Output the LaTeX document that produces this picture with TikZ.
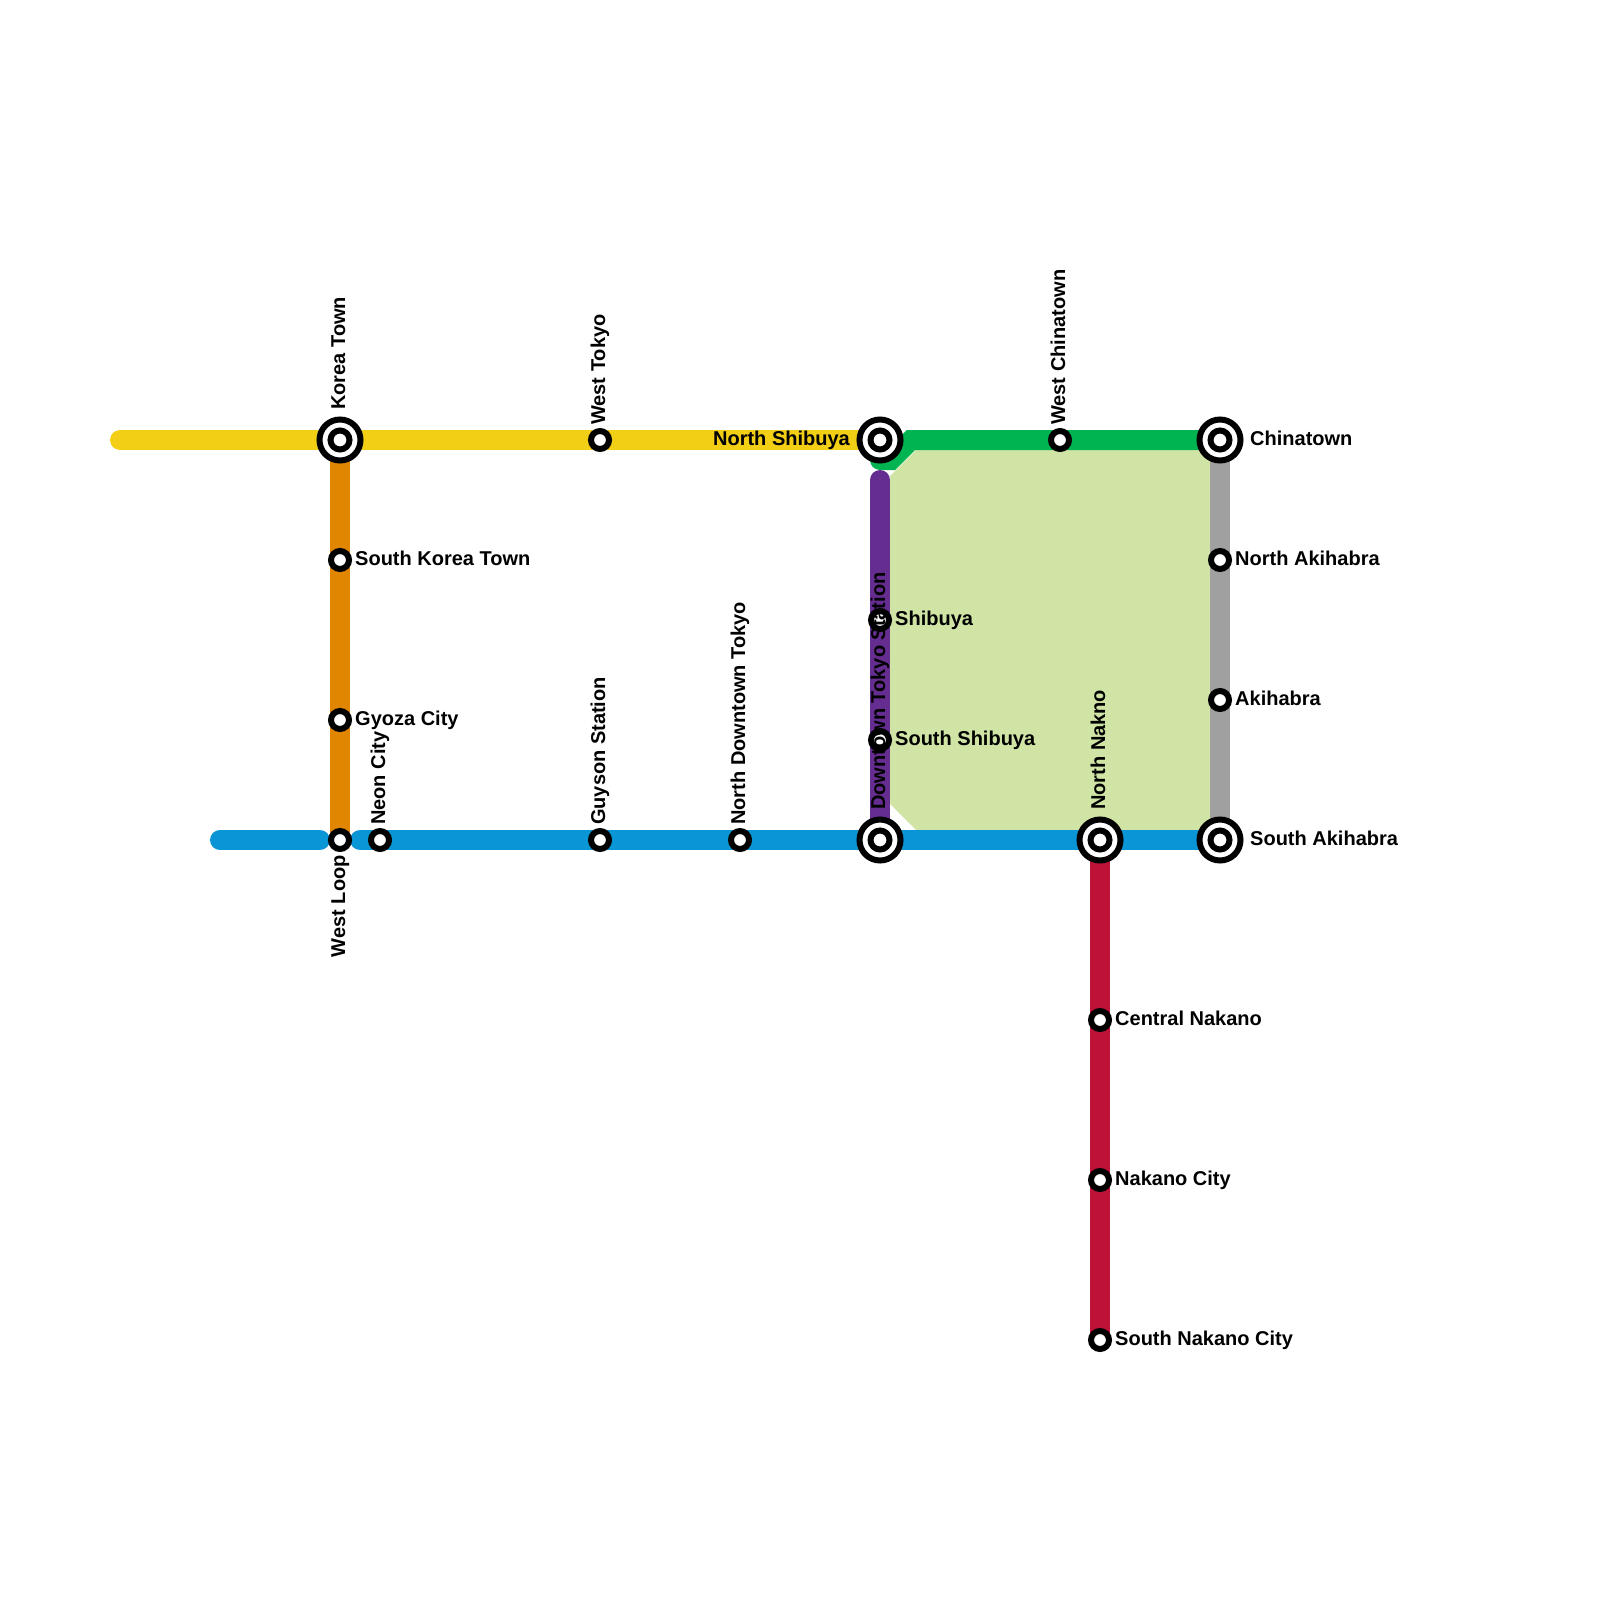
\documentclass[tikz,border=0pt]{standalone}
\usepackage{fontspec}
\setmainfont{Liberation Sans}
\usepackage{xcolor}
\usepackage{tikz}
\usetikzlibrary{backgrounds}
\definecolor{lineYellow}{HTML}{F2CE14}
\definecolor{lineOrange}{HTML}{E08600}
\definecolor{lineBlue}{HTML}{0A96D6}
\definecolor{lineGreen}{HTML}{00B451}
\definecolor{linePurple}{HTML}{662D91}
\definecolor{lineRed}{HTML}{BE1238}
\definecolor{lineGray}{HTML}{A0A0A0}
\definecolor{parkGreen}{HTML}{D0E5A5}
\tikzset{
  rail/.style={line width=20pt},
  railR/.style={line width=20pt, line cap=round},
  stn/.style={circle, draw=black, line width=6pt, fill=white, minimum size=18pt, inner sep=0pt},
  stnC/.style={circle, draw=black, line width=6pt, fill=white, minimum size=19pt, inner sep=0pt},
  hub/.style={circle, draw=black, line width=6pt, fill=white, minimum size=41pt, inner sep=0pt},
  lbl/.style={font=\fontsize{20}{22}\selectfont\bfseries, text=black, inner xsep=3pt, inner ysep=0pt, text height=13pt, text depth=3pt},
  lblE/.style={lbl, anchor=west},
  lblW/.style={lbl, anchor=east},
  lblN/.style={lbl, anchor=west, rotate=90},
  lblS/.style={lbl, anchor=east, rotate=90},
  far/.style={inner xsep=6.5pt},
}
\begin{document}
\begin{tikzpicture}[x=1pt, y=-1pt]
\useasboundingbox (0,0) rectangle (1600,1600);
% interchanges
\node[hub] (koreaTown) at (340,440) {};
\node[hub] (northShibuya) at (880,440) {};
\node[hub] (chinatown) at (1220,440) {};
\node[hub] (downtownTokyo) at (880,840) {};
\node[hub] (northNakno) at (1100,840) {};
\node[hub] (southAkihabra) at (1220,840) {};
\node[stnC] (koreaTownIn) at (koreaTown) {};
\node[stnC] (northShibuyaIn) at (northShibuya) {};
\node[stnC] (chinatownIn) at (chinatown) {};
\node[stnC] (downtownTokyoIn) at (downtownTokyo) {};
\node[stnC] (northNaknoIn) at (northNakno) {};
\node[stnC] (southAkihabraIn) at (southAkihabra) {};
% plain stations
\node[stn] (westTokyo) at (600,440) {};
\node[stn] (westChinatown) at (1060,440) {};
\node[stn] (southKoreaTown) at (340,560) {};
\node[stn] (gyozaCity) at (340,720) {};
\node[stn] (westLoop) at (340,840) {};
\node[stn] (neonCity) at (380,840) {};
\node[stn] (guyson) at (600,840) {};
\node[stn] (northDowntown) at (740,840) {};
\node[stn] (shibuya) at (880,620) {};
\node[stn] (southShibuya) at (880,740) {};
\node[stn] (northAkihabra) at (1220,560) {};
\node[stn] (akihabra) at (1220,700) {};
\node[stn] (centralNakano) at (1100,1020) {};
\node[stn] (nakanoCity) at (1100,1180) {};
\node[stn] (southNakano) at (1100,1340) {};
% free line ends
\coordinate (yellowEnd) at (120,440);
\coordinate (blueEnd) at (220,840);
\coordinate (blueGap) at (320,840);
\coordinate (blueStart) at (360,840);
\coordinate (purpleEnd) at (880,480);
\coordinate (greenBendA) at (911,440);
\coordinate (greenBendB) at (891,460);
\coordinate (greenEnd) at (880,460);
\begin{scope}[on background layer]
\fill[parkGreen] (916,450) -- (1210,450) -- (1210,830) -- (916,830) -- (890,804) -- (890,476) -- cycle;
\draw[railR, lineYellow] (yellowEnd) -- (northShibuya.center);
\draw[rail, lineOrange] (koreaTown.center) -- (westLoop.center);
\draw[railR, lineBlue] (blueEnd) -- (blueGap);
\draw[railR, lineBlue] (blueStart) -- (southAkihabra.center);
\draw[rail, lineRed] (northNakno.center) -- (southNakano.center);
\draw[rail, lineGray] (chinatown.center) -- (southAkihabra.center);
\draw[railR, lineGreen] (chinatown.center) -- (greenBendA) -- (greenBendB) -- (greenEnd);
\draw[railR, linePurple] (purpleEnd) -- (shibuya.center);
\draw[rail, linePurple] (shibuya.center) -- (downtownTokyo.center);
\end{scope}
% labels
\node[lblN, far] (koreaTownLbl) at (koreaTown.north) {Korea Town};
\node[lblN] (westTokyoLbl) at (westTokyo.north) {West Tokyo};
\node[lblW, far] (northShibuyaLbl) at (northShibuya.west) {North Shibuya};
\node[lblN] (westChinatownLbl) at (westChinatown.north) {West Chinatown};
\node[lblE, far] (chinatownLbl) at (chinatown.east) {Chinatown};
\node[lblE] (southKoreaTownLbl) at (southKoreaTown.east) {South Korea Town};
\node[lblE] (gyozaCityLbl) at (gyozaCity.east) {Gyoza City};
\node[lblS] (westLoopLbl) at (westLoop.south) {West Loop};
\node[lblN] (neonCityLbl) at (neonCity.north) {Neon City};
\node[lblN] (guysonLbl) at (guyson.north) {Guyson Station};
\node[lblN] (northDowntownLbl) at (northDowntown.north) {North Downtown Tokyo};
\node[lblN, far] (downtownTokyoLbl) at (downtownTokyo.north) {Downtown Tokyo Station};
\node[lblE] (shibuyaLbl) at (shibuya.east) {Shibuya};
\node[lblE] (southShibuyaLbl) at (southShibuya.east) {South Shibuya};
\node[lblN, far] (northNaknoLbl) at (northNakno.north) {North Nakno};
\node[lblE, far] (southAkihabraLbl) at (southAkihabra.east) {South Akihabra};
\node[lblE] (northAkihabraLbl) at (northAkihabra.east) {North Akihabra};
\node[lblE] (akihabraLbl) at (akihabra.east) {Akihabra};
\node[lblE] (centralNakanoLbl) at (centralNakano.east) {Central Nakano};
\node[lblE] (nakanoCityLbl) at (nakanoCity.east) {Nakano City};
\node[lblE] (southNakanoLbl) at (southNakano.east) {South Nakano City};
\end{tikzpicture}
\end{document}
